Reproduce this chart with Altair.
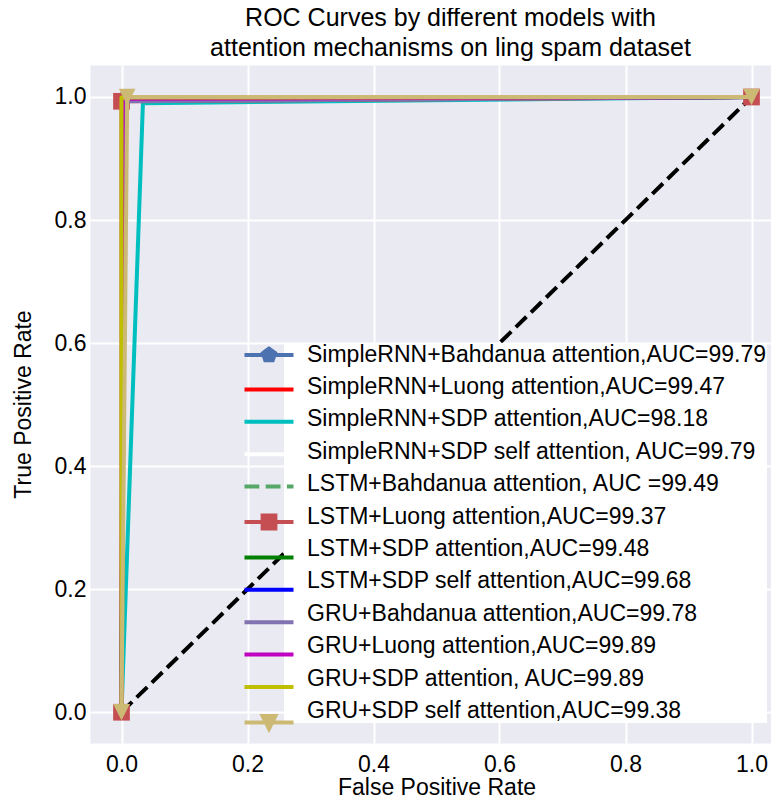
import altair as alt
import pandas as pd

FONT = "Liberation Sans"

models = [
    "SimpleRNN+Bahdanua attention,AUC=99.79",
    "SimpleRNN+Luong attention,AUC=99.47",
    "SimpleRNN+SDP attention,AUC=98.18",
    "SimpleRNN+SDP self attention, AUC=99.79",
    "LSTM+Bahdanua attention, AUC =99.49",
    "LSTM+Luong attention,AUC=99.37",
    "LSTM+SDP attention,AUC=99.48",
    "LSTM+SDP self attention,AUC=99.68",
    "GRU+Bahdanua attention,AUC=99.78",
    "GRU+Luong attention,AUC=99.89",
    "GRU+SDP attention, AUC=99.89",
    "GRU+SDP self attention,AUC=99.38",
]
colors = ["#4C72B0", "#FF0000", "#00BFBF", "#FFFFFF", "#55A868", "#C44E52",
          "#008000", "#0000FF", "#8172B2", "#BF00BF", "#BFBF00", "#CCB974"]
fpr_mid = [0.002, 0.006, 0.034, 0.003, 0.006, 0.0, 0.005, 0.003, 0.004, 0.002, 0.0, 0.009]
tpr_mid = [0.996, 0.995, 0.990, 0.994, 0.995, 0.993, 0.994, 0.996, 0.993, 0.997, 0.999, 1.0]
marker_kind = ["pentagon", "", "", "", "", "square", "", "", "", "", "", "triangle-down"]
dash_kind = ["solid", "solid", "solid", "solid", "dashed", "solid",
             "solid", "solid", "solid", "solid", "solid", "solid"]
diag_fpr = [0.0, 1.0]
diag_tpr = [0.0, 1.0]
x_ticks = [0.0, 0.2, 0.4, 0.6, 0.8, 1.0]
y_ticks = [0.0, 0.2, 0.4, 0.6, 0.8, 1.0]

MARK_PATHS = {
    "pentagon": "M0,-0.835L0.794,-0.258L0.491,0.676L-0.491,0.676L-0.794,-0.258Z",
    "square": "M-0.835,-0.835H0.835V0.835H-0.835Z",
    "triangle-down": "M-0.835,-0.835H0.835L0,0.835Z",
}
LEG_MARK_PATHS = {
    "pentagon": "M0,-0.64L0.609,-0.198L0.376,0.518L-0.376,0.518L-0.609,-0.198Z",
    "square": "M-0.64,-0.64H0.64V0.64H-0.64Z",
    "triangle-down": "M-0.64,-0.64H0.64L0,0.64Z",
}
HANDLE = "M-2.45,0H2.45"
DASHES = {"solid": [1, 0], "dashed": [14.8, 6.4]}

rows = []
for i, m in enumerate(models):
    pts = [(0.0, 0.0), (fpr_mid[i], tpr_mid[i]), (1.0, 1.0)]
    for s, (fx, ty) in enumerate(pts):
        rows.append({"model": m, "lab": "~" + m, "idx": i, "step": s, "fpr": fx, "tpr": ty})
df = pd.DataFrame(rows)
diag_df = pd.DataFrame({"fpr": diag_fpr, "tpr": diag_tpr})

x_enc = alt.X("fpr:Q", scale=alt.Scale(domain=[-0.05, 1.05], nice=False, zero=False),
              axis=alt.Axis(values=x_ticks, format=".1f", title="False Positive Rate",
                            labelPadding=10, titlePadding=0))
y_enc = alt.Y("tpr:Q", scale=alt.Scale(domain=[-0.05, 1.052], nice=False, zero=False),
              axis=alt.Axis(values=y_ticks, format=".1f", title="True Positive Rate",
                            labelPadding=4, titlePadding=19))

layers = []
layers.append(alt.Chart(diag_df).mark_line(color="black", strokeWidth=4, strokeDash=[14.8, 6.4],
                                            strokeCap="butt").encode(x=x_enc, y=y_enc))

base = alt.Chart(df)
for i, m in enumerate(models):
    sub = base.transform_filter(alt.datum.idx == i)
    line_kw = dict(color=colors[i], strokeWidth=4, strokeCap="round", strokeJoin="round")
    if dash_kind[i] == "dashed":
        line_kw["strokeDash"] = DASHES["dashed"]
        line_kw["strokeCap"] = "butt"
    layers.append(sub.mark_line(**line_kw).encode(x=x_enc, y=y_enc, order="step:Q"))
    if marker_kind[i]:
        layers.append(sub.mark_point(shape=MARK_PATHS[marker_kind[i]], size=400, filled=True,
                                     color=colors[i], opacity=1, strokeWidth=0)
                      .encode(x=x_enc, y=y_enc))

leg_fills = [colors[i] if marker_kind[i] else "transparent" for i in range(len(models))]
leg_paths = [HANDLE + (LEG_MARK_PATHS[marker_kind[i]] if marker_kind[i] else "") for i in range(len(models))]
leg_dashes = [DASHES[d] for d in dash_kind]

common_leg = dict(orient="none", title=None, labelFont=FONT, labelFontSize=23, labelColor="black",
                  labelLimit=0, rowPadding=8.4, padding=0)
legS = alt.Legend(legendX=153, legendY=278, symbolSize=400, symbolOffset=14, symbolStrokeWidth=4,
                  labelOpacity=0, fillColor="transparent", zindex=2, **common_leg)

layers.append(base.transform_filter("false").mark_point(opacity=1, strokeWidth=4, strokeCap="round")
              .encode(x=x_enc, y=y_enc,
                      stroke=alt.Stroke("model:N", scale=alt.Scale(domain=models, range=colors), legend=legS),
                      fill=alt.Fill("model:N", scale=alt.Scale(domain=models, range=leg_fills), legend=legS),
                      shape=alt.Shape("model:N", scale=alt.Scale(domain=models, range=leg_paths), legend=legS),
                      strokeDash=alt.StrokeDash("model:N", scale=alt.Scale(domain=models, range=leg_dashes),
                                                legend=legS)))

lab_domain = ["~" + m for m in models]
legL = alt.Legend(legendX=194, legendY=278, fillColor="white", symbolSize=0, symbolOpacity=0,
                  symbolStrokeWidth=0, labelOffset=0, labelExpr="substring(datum.label, 1)",
                  zindex=1, **common_leg)
layers.append(base.transform_filter("false").mark_point(opacity=1, strokeWidth=0)
              .encode(x=x_enc, y=y_enc,
                      color=alt.Color("lab:N", scale=alt.Scale(domain=lab_domain,
                                                               range=["transparent"] * len(models)),
                                      legend=legL)))

chart = (
    alt.layer(*layers)
    .properties(
        width=693, height=678,
        title=alt.TitleParams(["ROC Curves by different models with",
                               "attention mechanisms on ling spam dataset"], dx=14),
        autosize=alt.AutoSizeParams(type="none"),
        padding={"left": 82, "top": 57, "right": -12, "bottom": 56},
        background="white",
    )
    .configure_view(fill="#EAEAF2", stroke="transparent")
    .configure_axis(grid=True, gridColor="white", gridWidth=2, domain=False, ticks=False,
                    labelFont=FONT, labelFontSize=23, labelColor="black",
                    titleFont=FONT, titleFontSize=23, titleFontWeight="normal", titleColor="black")
    .configure_title(font=FONT, fontSize=25, fontWeight="normal", color="black", anchor="middle",
                     offset=0, lineHeight=30)
)

chart.save("out.html", embed_options={"renderer": "svg", "actions": False})
